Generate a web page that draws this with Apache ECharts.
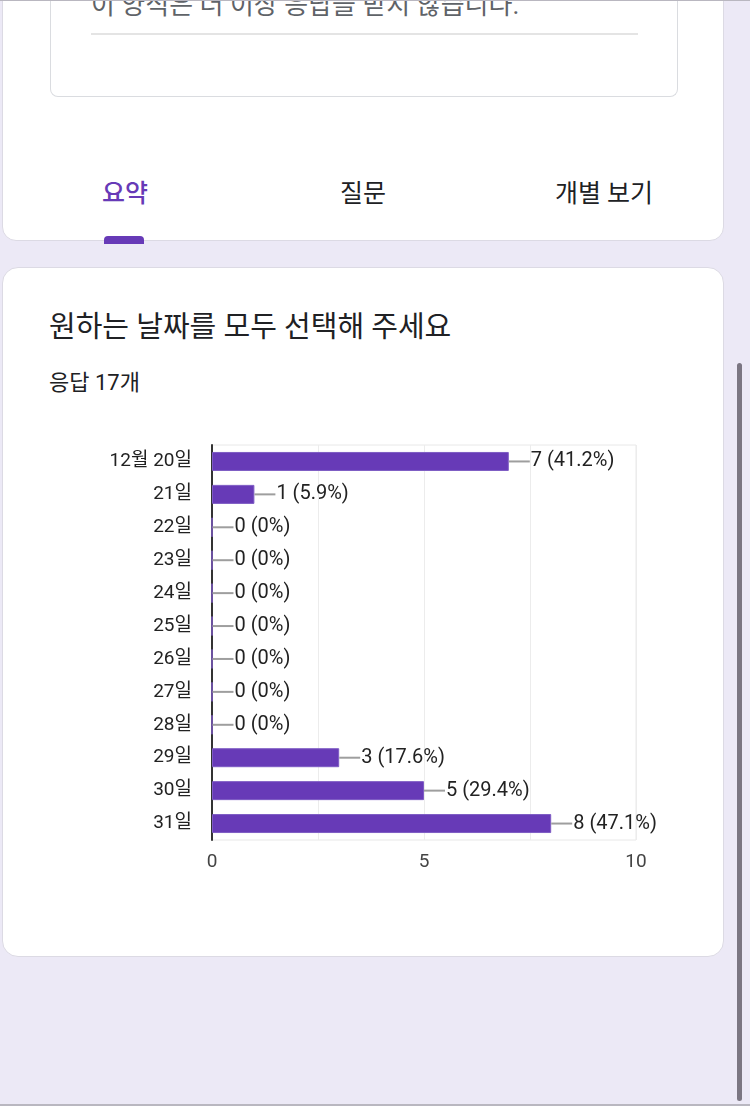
<!DOCTYPE html>
<html>
<head>
<meta charset="utf-8">
<script src="https://cdn.jsdelivr.net/npm/echarts@6/dist/echarts.min.js"></script>
<style>
  html, body { margin: 0; padding: 0; }
  body {
    width: 750px; height: 1106px; position: relative; overflow: hidden;
    background: #ece9f6;
    font-family: Roboto, "Noto Sans CJK KR", sans-serif;
    color: #202124;
  }
  .card {
    position: absolute; left: 2px; width: 722px; background: #fff;
    border: 1px solid #dcdae4; box-sizing: border-box;
  }
  #topCard { top: -20px; height: 261px; border-radius: 0 0 14px 14px; }
  #inner {
    position: absolute; left: 47px; top: 0; width: 628px; height: 116px;
    border: 1px solid #dadce0; border-top: none; border-radius: 0 0 8px 8px; box-sizing: border-box;
  }
  #closed { position: absolute; left: 40px; top: 11px; font-size: 26px; line-height: 1; color: #5f6368; white-space: nowrap; }
  #rule { position: absolute; left: 40px; top: 52px; width: 547px; height: 2px; background: #e4e4e4; }
  .tab { position: absolute; top: 200px; font-size: 25px; line-height: 1; transform: translateX(-50%); white-space: nowrap; }
  #tabInd { position: absolute; left: 101px; top: 255px; width: 40px; height: 8px; background: #673ab7; border-radius: 4px 4px 0 0; }
  #qCard { top: 267px; height: 690px; border-radius: 16px; }
  #qTitle { position: absolute; left: 46px; top: 45px; font-size: 29px; line-height: 1; white-space: nowrap; }
  #qCount { position: absolute; left: 46px; top: 104px; font-size: 22px; line-height: 1; white-space: nowrap; }
  #chart { position: absolute; left: 0; top: 0; width: 750px; height: 1106px; }
  #scroll { position: absolute; left: 737px; top: 363px; width: 5px; height: 738px; background: #7b7682; border-radius: 3px; }
  #topEdge { position: absolute; left: 0; top: 0; width: 750px; height: 1px; background: #b9b7c0; }
  #botEdge { position: absolute; left: 0; top: 1104px; width: 750px; height: 2px; background: #b9b7c0; }
</style>
</head>
<body>
<div id="topCard" class="card">
  <div id="inner">
    <div id="closed">이 양식은 더 이상 응답을 받지 않습니다.</div>
    <div id="rule"></div>
  </div>
  <div class="tab" style="left:122px;color:#673ab7;font-weight:500;">요약</div>
  <div class="tab" style="left:360px;">질문</div>
  <div class="tab" style="left:601px;">개별 보기</div>
  <div id="tabInd"></div>
</div>
<div id="qCard" class="card">
  <div id="qTitle">원하는 날짜를 모두 선택해 주세요</div>
  <div id="qCount">응답 17개</div>
</div>
<div id="scroll"></div>
<div id="topEdge"></div>
<div id="botEdge"></div>
<div id="chart"></div>
<script>
// 날짜별 응답 수
var categories = ['12월 20일', '21일', '22일', '23일', '24일', '25일', '26일', '27일', '28일', '29일', '30일', '31일'];
var counts = [7, 1, 0, 0, 0, 0, 0, 0, 0, 3, 5, 8];
var percents = ['41.2%', '5.9%', '0%', '0%', '0%', '0%', '0%', '0%', '0%', '17.6%', '29.4%', '47.1%'];
var xTicks = [0, 5, 10];

var myChart = echarts.init(document.getElementById('chart'));
var font = 'Roboto, "Noto Sans CJK KR", sans-serif';

var option = {
    backgroundColor: 'transparent',
    animation: false,
    grid: {
        left: 212, top: 445, width: 424, height: 395,
        show: true, borderColor: '#e8e8e8', borderWidth: 1,
        containLabel: false
    },
    xAxis: {
        type: 'value',
        min: 0, max: 10, interval: 2.5,
        axisLine: { show: false },
        axisTick: { show: false },
        splitLine: { lineStyle: { color: '#ececec', width: 1 } },
        axisLabel: {
            margin: 13,
            color: '#444',
            fontSize: 19,
            fontFamily: font,
            formatter: function (v) { return xTicks.indexOf(v) >= 0 ? String(v) : ''; }
        }
    },
    yAxis: {
        type: 'category',
        inverse: true,
        data: categories,
        axisTick: { show: false },
        axisLine: { lineStyle: { color: '#333', width: 2 } },
        axisLabel: { margin: 20, color: '#222', fontSize: 19, fontFamily: font }
    },
    series: [{
        type: 'bar',
        data: counts,
        barWidth: 19,
        itemStyle: { color: '#673ab7', borderColor: '#7e5cc4', borderWidth: 1 },
        label: {
            show: true,
            position: 'right',
            distance: 0,
            formatter: function (p) {
                return '{ln| }{t|' + counts[p.dataIndex] + ' (' + percents[p.dataIndex] + ')}';
            },
            rich: {
                ln: { width: 21, height: 2, backgroundColor: '#9e9e9e' },
                t: { fontSize: 20, color: '#222', fontFamily: font, padding: [0, 0, 0, 1] }
            }
        }
    }]
};

option && myChart.setOption(option);
</script>
</body>
</html>
